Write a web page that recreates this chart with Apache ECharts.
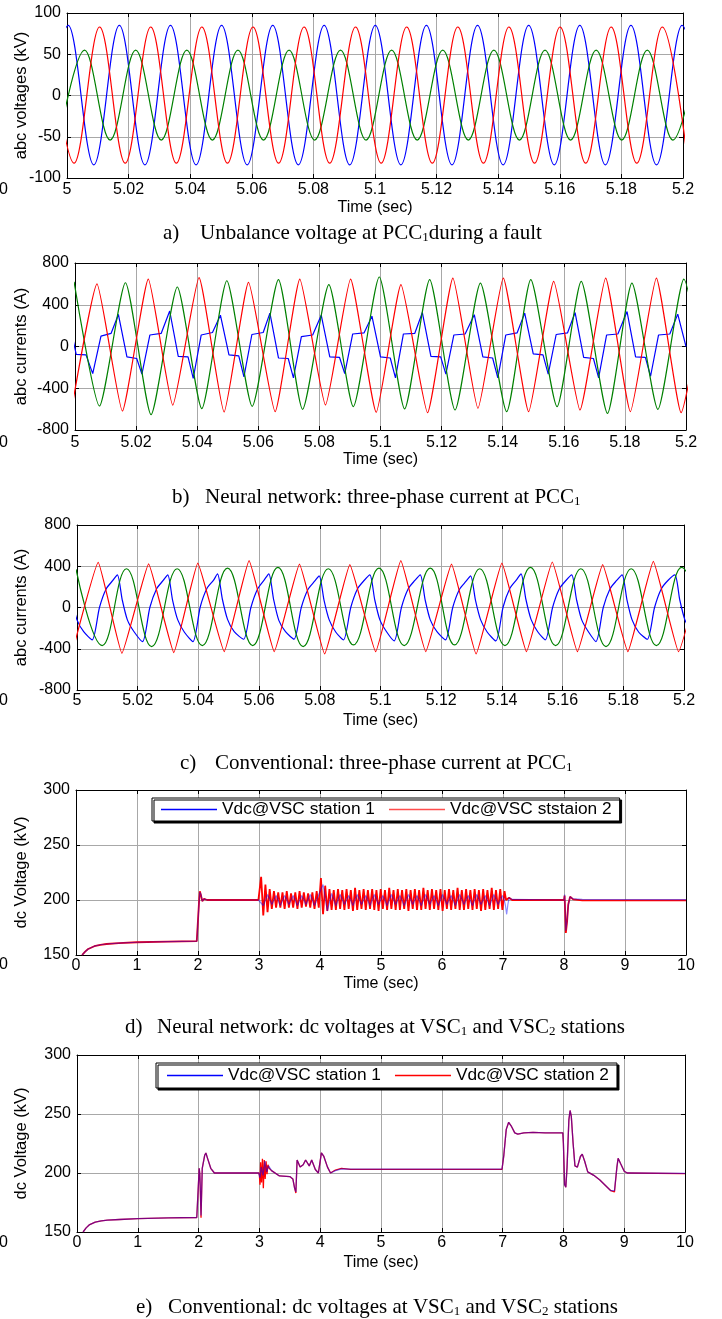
<!DOCTYPE html>
<html><head><meta charset="utf-8">
<script src="https://cdn.jsdelivr.net/npm/echarts/dist/echarts.min.js"></script>
<style>html,body{margin:0;padding:0;background:#fff}#c{width:722px;height:1319px}</style>
</head><body><div id="c"></div>
<script>
// ================= DATA =================
// Panel a: abc voltages (kV) at PCC1 – extrema of each phase [time s, kV]
const voltPhaseA = [[4.9921,-84],[5.0004,85],[5.0087,-84],[5.0170,85],[5.0253,-84],[5.0336,85],[5.0419,-84],[5.0502,85],[5.0585,-84],[5.0668,85],[5.0751,-84],[5.0835,85],[5.0918,-84],[5.1001,85],[5.1084,-84],[5.1167,85],[5.1250,-84],[5.1333,85],[5.1416,-84],[5.1499,85],[5.1582,-84],[5.1665,85],[5.1748,-84],[5.1831,85],[5.1914,-84],[5.1997,85],[5.2080,-84]];
const voltPhaseB = [[4.9940,83],[5.0023,-82],[5.0106,83],[5.0189,-82],[5.0272,83],[5.0355,-82],[5.0438,83],[5.0521,-82],[5.0604,83],[5.0687,-82],[5.0770,83],[5.0853,-82],[5.0937,83],[5.1020,-82],[5.1103,83],[5.1186,-82],[5.1269,83],[5.1352,-82],[5.1435,83],[5.1518,-82],[5.1601,83],[5.1684,-82],[5.1767,83],[5.1850,-82],[5.1933,83],[5.2016,-82]];
const voltPhaseC = [[4.9974,-54],[5.0057,55],[5.0140,-54],[5.0223,55],[5.0306,-54],[5.0389,55],[5.0472,-54],[5.0555,55],[5.0638,-54],[5.0721,55],[5.0804,-54],[5.0888,55],[5.0971,-54],[5.1054,55],[5.1137,-54],[5.1220,55],[5.1303,-54],[5.1386,55],[5.1469,-54],[5.1552,55],[5.1635,-54],[5.1718,55],[5.1801,-54],[5.1884,55],[5.1967,-54],[5.2050,55]];

// Panel b: neural network, abc currents (A)
const nnCurA = [[4.9976,300],[5.0004,-75],[5.0036,-80],[5.0058,-260],[5.0085,100],[5.0118,125],
 [5.0142,307],[5.0170,-100],[5.0202,-115],[5.0219,-265],[5.0245,110],[5.0282,125],
 [5.0310,340],[5.0338,-95],[5.0370,-100],[5.0387,-305],[5.0413,110],[5.0450,134],
 [5.0476,300],[5.0504,-80],[5.0536,-90],[5.0553,-290],[5.0579,115],[5.0616,134],
 [5.0638,320],[5.0666,-110],[5.0698,-115],[5.0715,-300],[5.0741,95],[5.0778,110],
 [5.0806,300],[5.0834,-100],[5.0866,-105],[5.0883,-260],[5.0909,120],[5.0946,130],
 [5.0972,290],[5.1000,-100],[5.1032,-110],[5.1049,-300],[5.1075,120],[5.1112,125],
 [5.1137,325],[5.1165,-95],[5.1197,-100],[5.1214,-265],[5.1240,110],[5.1277,120],
 [5.1307,305],[5.1335,-100],[5.1367,-110],[5.1384,-300],[5.1410,110],[5.1447,130],
 [5.1472,320],[5.1500,-70],[5.1532,-80],[5.1549,-265],[5.1575,115],[5.1612,130],
 [5.1637,325],[5.1665,-105],[5.1697,-115],[5.1714,-300],[5.1740,110],[5.1777,120],
 [5.1807,335],[5.1835,-100],[5.1867,-105],[5.1884,-285],[5.1910,110],[5.1947,120],
 [5.1973,310],[5.2000,0]];
const nnCurB = [[4.9989,-600],[5.0072,600],[5.0155,-618],[5.0240,645],[5.0320,-563],[5.0406,660],[5.0488,-627],[5.0568,615],[5.0655,-624],[5.0736,646],[5.0820,-560],[5.0902,646],[5.0986,-630],[5.1067,592],[5.1154,-634],[5.1237,656],[5.1319,-592],[5.1402,656],[5.1485,-624],[5.1567,624],[5.1653,-608],[5.1737,656],[5.1818,-624],[5.1903,656],[5.1984,-634],[5.2068,600]];
const nnCurC = [[4.9997,620],[5.0080,-570],[5.0165,611],[5.0249,-653],[5.0335,570],[5.0415,-595],[5.0497,630],[5.0580,-573],[5.0666,640],[5.0745,-602],[5.0831,592],[5.0911,-576],[5.0996,666],[5.1079,-598],[5.1161,640],[5.1244,-608],[5.1327,608],[5.1413,-624],[5.1492,640],[5.1578,-576],[5.1657,624],[5.1743,-640],[5.1823,608],[5.1908,-602],[5.1993,646],[5.2076,-600]];

// Panel c: conventional, abc currents (A)
const convCurA = [[4.9967,320],[4.9983,75],[5.0000,-120],[5.0022,-235],
 [5.0050,-314],[5.0074,0],[5.0096,180],[5.0118,262],[5.0133,317],[5.0149,75],[5.0166,-120],[5.0188,-235],
 [5.0216,-330],[5.0240,0],[5.0262,180],[5.0284,262],[5.0299,317],[5.0315,70],[5.0332,-120],[5.0354,-240],
 [5.0382,-330],[5.0406,5],[5.0428,185],[5.0450,265],[5.0463,327],[5.0479,80],[5.0496,-115],[5.0518,-235],
 [5.0549,-308],[5.0573,0],[5.0595,180],[5.0617,268],[5.0632,327],[5.0648,75],[5.0665,-125],[5.0687,-235],
 [5.0715,-308],[5.0739,0],[5.0761,175],[5.0783,255],[5.0798,307],[5.0814,70],[5.0831,-120],[5.0853,-240],
 [5.0878,-314],[5.0902,0],[5.0924,180],[5.0946,262],[5.0965,317],[5.0981,75],[5.0998,-120],[5.1020,-235],
 [5.1045,-324],[5.1069,0],[5.1091,180],[5.1113,262],[5.1131,317],[5.1147,75],[5.1164,-120],[5.1186,-235],
 [5.1214,-314],[5.1238,0],[5.1260,175],[5.1282,255],[5.1297,307],[5.1313,70],[5.1330,-120],[5.1352,-240],
 [5.1380,-324],[5.1404,5],[5.1426,185],[5.1448,268],[5.1463,327],[5.1479,80],[5.1496,-115],[5.1518,-235],
 [5.1543,-314],[5.1567,0],[5.1589,180],[5.1611,262],[5.1630,317],[5.1646,75],[5.1663,-120],[5.1685,-235],
 [5.1710,-330],[5.1734,0],[5.1756,180],[5.1778,262],[5.1796,317],[5.1812,75],[5.1829,-120],[5.1851,-240],
 [5.1879,-308],[5.1903,0],[5.1925,180],[5.1947,262],[5.1970,317],[5.1986,75],[5.2003,-120],[5.2025,-235],[5.2045,-315]];
const convCurB = [[4.9985,-430],[5.0070,437],[5.0148,-444],[5.0236,424],[5.0319,-437],[5.0398,431],[5.0485,-428],[5.0567,454],[5.0650,-428],[5.0733,421],[5.0816,-450],[5.0899,415],[5.0984,-428],[5.1067,454],[5.1149,-428],[5.1234,421],[5.1315,-450],[5.1400,431],[5.1481,-428],[5.1566,441],[5.1649,-428],[5.1732,415],[5.1815,-428],[5.1899,447],[5.1982,-428],[5.2065,440]];
const convCurC = [[4.9997,370],[5.0083,-369],[5.0163,376],[5.0246,-379],[5.0330,376],[5.0413,-369],[5.0496,382],[5.0579,-369],[5.0662,389],[5.0745,-379],[5.0828,376],[5.0911,-363],[5.0995,382],[5.1078,-369],[5.1164,382],[5.1244,-363],[5.1327,376],[5.1410,-369],[5.1494,389],[5.1577,-369],[5.1660,376],[5.1743,-379],[5.1826,376],[5.1909,-369],[5.1992,389],[5.2075,-370]];

// Panel d: neural network, dc voltages (kV)
const nnVdc1Head = [[0.1,150],[0.15,153],[0.2,155.5],[0.3,158],[0.4,159.3],[0.5,160],[0.7,160.8],[1.0,161.6],[1.5,162.2],[1.98,162.6],[2.0,163],[2.02,200],[2.03,207],[2.05,205],[2.07,199],[2.1,201],[2.15,200],[2.99,200]];
const nnVdc1BandStart = 3.0, nnVdc1BandStep = 0.07;
const nnVdc1Band = [200,195,205,196,204,195,204,196,204,195,
 204,196,205,195,205,214,190,206,195,205,
 196,204,195,205,196,204,195,205,196,204,
 195,205,196,204,195,205,196,204,195,205,
 196,204,195,205,196,204,195,205,196,204,
 195,205,196,204,195,205,196,204];
const nnVdc1Tail = [[7.02,200],[7.04,195],[7.06,187],[7.08,196],[7.1,202],[7.15,200.5],[8.0,200],[8.01,205],[8.03,172],[8.05,181],[8.07,195],[8.1,203],[8.15,201],[8.3,200.5],[10,200.4]];
const nnVdc2Head = [[0.1,150],[0.15,153],[0.2,155.5],[0.3,158],[0.4,159.3],[0.5,160],[0.7,160.8],[1.0,161.6],[1.5,162.2],[1.98,162.6],[2.0,163],[2.02,201],[2.03,208],[2.05,204],[2.07,199],[2.1,201],[2.15,200],[2.99,200]];
const nnVdc2BandStart = 3.0, nnVdc2BandStep = 0.035;
const nnVdc2Band = [200,221,186,214,189,210,192,208,193,207,
 193,207,192,208,193,206,193,207,192,208,
 193,207,194,206,193,207,192,208,193,220,
 187,213,190,210,191,209,191,210,192,209,
 191,210,192,209,190,211,191,209,192,210,
 191,209,192,210,191,209,190,210,192,209,
 191,211,192,209,191,210,191,209,192,210,
 190,209,192,210,191,209,191,211,192,209,
 191,210,192,209,191,210,190,209,192,210,
 191,209,192,211,191,209,191,210,192,209,
 191,210,192,209,190,210,191,209,192,211,
 191,209,192,210,191,208];
const nnVdc2Tail = [[7.05,200],[7.08,199],[7.1,202],[7.15,200],[8.0,200],[8.01,204],[8.03,170],[8.05,180],[8.07,196],[8.1,203],[8.15,200.5],[8.3,199.7],[10,199.6]];

// Panel e: conventional, dc voltages (kV)
const convVdc1 = [[0.1,150],[0.15,153.5],[0.2,156],[0.3,158.3],[0.4,159.4],[0.5,160],[0.7,160.6],[1.0,161.3],[1.5,161.9],[1.97,162.3],[2.0,162.5],[2.01,204],[2.02,199],[2.03,184],[2.04,164],[2.06,204],[2.1,215],[2.12,217],[2.15,212],[2.2,204],[2.26,200],[2.99,200],
 [3.01,196],[3.03,205],[3.06,198],[3.09,210],[3.12,201],[3.15,206],[3.2,202],[3.33,197.5],[3.5,197],[3.55,195],[3.58,187],[3.6,184],[3.62,211],[3.67,205],[3.72,207],[3.76,211],[3.82,206],[3.86,211],[3.92,203],[3.97,200],[4.02,217],[4.06,214],[4.12,205],[4.17,200],[4.25,202],[4.35,203.5],[4.5,203.3],[6.99,203.3],
 [7.02,215],[7.06,237],[7.1,243],[7.14,240],[7.2,234],[7.25,233],[7.35,234],[7.5,234.5],[7.7,234],[7.99,234],[8.0,225],[8.02,190],[8.04,188],[8.06,205],[8.09,245],[8.11,253],[8.13,248],[8.16,225],[8.19,206],[8.23,205],[8.28,214],[8.31,216],[8.35,210],[8.4,201],[8.5,198],[8.6,194],[8.7,189],[8.78,185],[8.84,185],[8.88,205],[8.9,212.5],[8.94,208],[9.0,201.5],[9.05,200],[10,199.6]];
const convVdc2 = [[0.1,150],[0.15,153.5],[0.2,156],[0.3,158.3],[0.4,159.4],[0.5,160],[0.7,160.6],[1.0,161.3],[1.5,161.9],[1.97,162.3],[2.0,162.5],[2.01,204],[2.02,199],[2.03,182],[2.04,162],[2.06,204],[2.1,215],[2.12,217],[2.15,212],[2.2,204],[2.26,200],[2.99,200],
 [3.0,198],[3.01,190],[3.02,209],[3.035,192],[3.05,212],[3.065,187],[3.08,211],[3.095,195],[3.11,210],[3.125,199],[3.14,207],[3.16,204],[3.2,202],[3.33,197.5],[3.5,197],[3.55,195],[3.58,187],[3.6,183],[3.62,211],[3.67,205],[3.72,207],[3.76,211],[3.82,206],[3.86,211],[3.92,203],[3.97,200],[4.02,217],[4.06,214],[4.12,205],[4.17,200],[4.25,202.5],[4.35,204],[4.5,203],[6.99,203],
 [7.02,215],[7.06,237],[7.1,243],[7.14,240],[7.2,234],[7.25,233],[7.35,234],[7.5,234.5],[7.7,234],[7.99,234],[8.0,225],[8.02,190],[8.04,188],[8.06,205],[8.09,245],[8.11,253],[8.13,248],[8.16,225],[8.19,206],[8.23,205],[8.28,214],[8.31,216],[8.35,210],[8.4,201],[8.5,198],[8.6,194],[8.7,189],[8.78,185],[8.84,184],[8.88,205],[8.9,212.5],[8.94,208],[9.0,201.5],[9.05,200],[10,199.5]];

// Axis ranges [min, max, interval] and texts
const xRanges = [[5,5.2,0.02],[5,5.2,0.02],[5,5.2,0.02],[0,10,1],[0,10,1]];
const yRanges = [[-100,100,50],[-800,800,400],[-800,800,400],[150,300,50],[150,300,50]];
const yNames = ['abc voltages (kV)','abc currents (A)','abc currents (A)','dc Voltage (kV)','dc Voltage (kV)'];
const xName = 'Time (sec)';
const legendNamesNN = ['Vdc@VSC station 1','Vdc@VSC ststaion 2'];
const legendNamesConv = ['Vdc@VSC station 1','Vdc@VSC station 2'];
const captions = [
  ['a)', [['Unbalance voltage at PCC',0],['1',1],['during a fault',0]]],
  ['b)', [['Neural network: three-phase current at PCC',0],['1',1]]],
  ['c)', [['Conventional: three-phase current at PCC',0],['1',1]]],
  ['d)', [['Neural network: dc voltages at VSC',0],['1',1],[' and VSC',0],['2',1],[' stations',0]]],
  ['e)', [['Conventional: dc voltages at VSC',0],['1',1],[' and VSC',0],['2',1],[' stations',0]]]
];

// ================= LAYOUT / STYLE =================
const SANS = '"Liberation Sans", Arial, Helvetica, sans-serif';
const SERIF = '"Liberation Serif", "Times New Roman", serif';
const BLUE = '#0000ff', RED = '#ff0000', GREEN = '#008000';
const layouts = [
  {left:67, top:13,   width:616, height:165},
  {left:75, top:263,  width:611, height:167},
  {left:77, top:525,  width:607, height:165},
  {left:76, top:790,  width:610, height:165},
  {left:77, top:1055, width:608, height:177}
];
const xLabelMargin = [4,5,3,3,3];
const xNameGap = [22,22,23,21,23];
const captionPos = [[163,200,233],[172,205,497],[180,215,763],[125,157,1027],[136,168,1307]];
const strayZeroY = [190,443,701,965,1243];

function withBand(head, start, step, vals, tail) {
  const out = head.slice();
  vals.forEach((v, i) => out.push([+(start + i * step).toFixed(4), v]));
  return out.concat(tail);
}

const chart = echarts.init(document.getElementById('c'), null, {renderer:'canvas', width:722, height:1319});

const xAxes = [], yAxes = [];
const fmtX = v => String(+(+v).toFixed(2));
layouts.forEach((l, i) => {
  const [xmin, xmax, xi] = xRanges[i];
  xAxes.push({gridIndex:i, type:'value', position:'bottom', min:xmin, max:xmax, interval:xi,
    axisLine:{show:true, onZero:false, lineStyle:{color:'#000', width:1}},
    axisTick:{show:true, inside:true, length:4, lineStyle:{color:'#000'}},
    axisLabel:{show:true, color:'#000', fontFamily:SANS, fontSize:16, margin:xLabelMargin[i], formatter:fmtX, showMinLabel:true, showMaxLabel:true},
    splitLine:{show:true, lineStyle:{color:'#a8a8a8', width:1}},
    name:xName, nameLocation:'middle', nameGap:xNameGap[i], nameMoveOverlap:false,
    nameTextStyle:{color:'#000', fontFamily:SANS, fontSize:16}});
  const [ymin, ymax, yi] = yRanges[i];
  yAxes.push({gridIndex:i, type:'value', position:'left', min:ymin, max:ymax, interval:yi,
    axisLine:{show:true, onZero:false, lineStyle:{color:'#000', width:1}},
    axisTick:{show:true, inside:true, length:4, lineStyle:{color:'#000'}},
    axisLabel:{show:true, color:'#000', fontFamily:SANS, fontSize:16, margin:6, showMinLabel:true, showMaxLabel:true},
    splitLine:{show:true, lineStyle:{color:'#a8a8a8', width:1}},
    name:yNames[i], nameLocation:'middle', nameGap:l.left - 30, nameRotate:90, nameMoveOverlap:false,
    nameTextStyle:{color:'#000', fontFamily:SANS, fontSize:16.5}});
});
layouts.forEach((l, i) => {
  const [xmin, xmax, xi] = xRanges[i];
  xAxes.push({gridIndex:i, type:'value', position:'top', min:xmin, max:xmax, interval:xi,
    axisLine:{show:true, onZero:false, lineStyle:{color:'#000', width:1}},
    axisTick:{show:true, inside:true, length:4, lineStyle:{color:'#000'}},
    axisLabel:{show:false}, splitLine:{show:false}});
  const [ymin, ymax, yi] = yRanges[i];
  yAxes.push({gridIndex:i, type:'value', position:'right', min:ymin, max:ymax, interval:yi,
    axisLine:{show:true, onZero:false, lineStyle:{color:'#000', width:1}},
    axisTick:{show:true, inside:true, length:4, lineStyle:{color:'#000'}},
    axisLabel:{show:false}, splitLine:{show:false}});
});

function line(i, name, data, color, extra) {
  return Object.assign({type:'line', name, xAxisIndex:i, yAxisIndex:i, data,
    symbol:'none', showSymbol:false, smooth:false, animation:false, silent:true,
    lineStyle:{color, width:1.2}, itemStyle:{color}, emphasis:{disabled:true}}, extra || {});
}

const series = [
  line(0, 'a_phaseA', voltPhaseA, BLUE, {smooth:0.36}),
  line(0, 'a_phaseC', voltPhaseC, GREEN, {smooth:0.36}),
  line(0, 'a_phaseB', voltPhaseB, RED, {smooth:0.36}),
  line(1, 'b_phaseA', nnCurA, BLUE),
  line(1, 'b_phaseC', nnCurC, GREEN, {smooth:0.2}),
  line(1, 'b_phaseB', nnCurB, RED, {smooth:0.15}),
  line(2, 'c_phaseA', convCurA, BLUE, {smooth:0.25}),
  line(2, 'c_phaseC', convCurC, GREEN, {smooth:0.42}),
  line(2, 'c_phaseB', convCurB, RED, {smooth:0.1}),
  line(3, legendNamesNN[1], withBand(nnVdc2Head, nnVdc2BandStart, nnVdc2BandStep, nnVdc2Band, nnVdc2Tail), RED, {lineStyle:{color:RED, width:1.8}}),
  line(3, legendNamesNN[0], withBand(nnVdc1Head, nnVdc1BandStart, nnVdc1BandStep, nnVdc1Band, nnVdc1Tail), BLUE, {lineStyle:{color:BLUE, width:1.2, opacity:0.45}}),
  line(4, legendNamesConv[1], convVdc2, RED, {lineStyle:{color:RED, width:1.3}}),
  line(4, legendNamesConv[0], convVdc1, BLUE, {lineStyle:{color:BLUE, width:1.3, opacity:0.5}})
];

function legendFor(names, left, top, pad, red2) {
  return {show:true, left, top, orient:'horizontal', selectedMode:false,
    icon:'rect', itemWidth:56, itemHeight:1.5, itemGap:14, padding:pad,
    borderColor:'#000', borderWidth:1, backgroundColor:'#fff',
    shadowColor:'#000', shadowBlur:0, shadowOffsetX:2, shadowOffsetY:2,
    textStyle:{color:'#000', fontFamily:SANS, fontSize:17.3},
    data:[{name:names[0], icon:'rect', itemStyle:{color:BLUE, opacity:1, borderWidth:0}},
          {name:names[1], icon:'rect', itemStyle:{color:red2, opacity:1, borderWidth:0}}]};
}

// captions (with subscripts) and stray cropped "0" labels at left edge
const mctx = document.createElement('canvas').getContext('2d');
function measure(t, size) { mctx.font = size + 'px ' + SERIF; return mctx.measureText(t).width; }
const graphics = [];
captions.forEach((c, i) => {
  const [lx, bx, cy] = captionPos[i];
  graphics.push({type:'text', x:lx, y:cy, silent:true, style:{text:c[0], fontFamily:SERIF, fontSize:21, fill:'#000', verticalAlign:'middle'}});
  let x = bx;
  c[1].forEach(([t, sub]) => {
    const fs = sub ? 13 : 21;
    graphics.push({type:'text', x, y: sub ? cy + 5 : cy, silent:true, style:{text:t, fontFamily:SERIF, fontSize:fs, fill:'#000', verticalAlign:'middle'}});
    x += measure(t, fs);
  });
});
strayZeroY.forEach(y => graphics.push({type:'text', x:-1, y, silent:true, style:{text:'0', fontFamily:SANS, fontSize:16, fill:'#000', verticalAlign:'middle'}}));

chart.setOption({
  animation:false,
  backgroundColor:'#fff',
  grid: layouts.map(l => ({left:l.left, top:l.top, width:l.width, height:l.height, containLabel:false, outerBoundsMode:'none', show:false})),
  xAxis: xAxes,
  yAxis: yAxes,
  legend: [legendFor(legendNamesNN, 152, 798, [3,8,3,9], '#ff4d4d'), legendFor(legendNamesConv, 156, 1063, [4,8,4,11], RED)],
  series,
  graphic: graphics
});
</script></body></html>
